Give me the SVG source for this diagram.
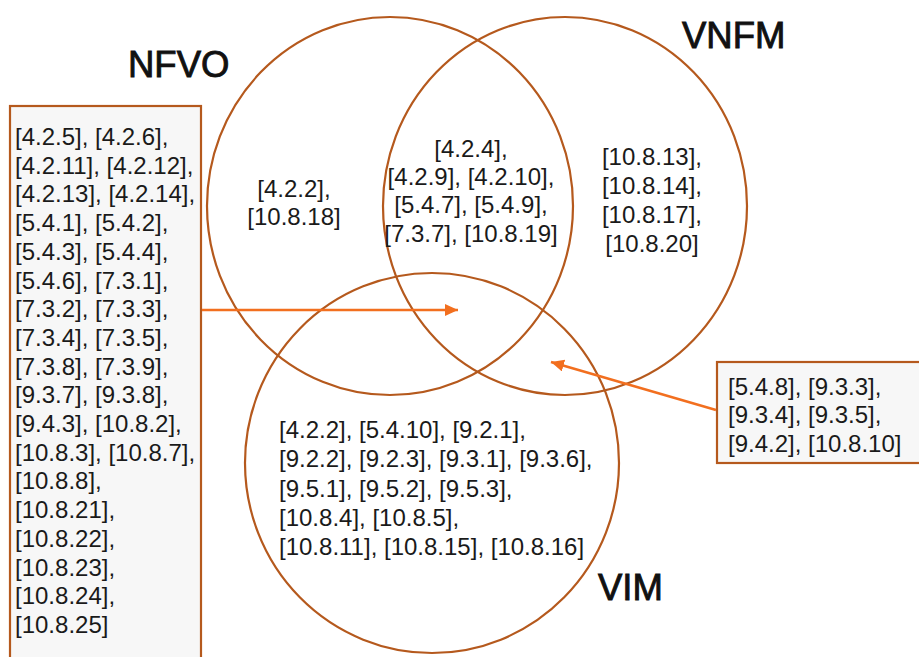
<svg xmlns="http://www.w3.org/2000/svg" width="919" height="657" viewBox="0 0 919 657">
<style>
.c{fill:none;stroke:#b5591d;stroke-width:2.2}
.box{fill:#f7f7f7;stroke:#b5591d;stroke-width:2.2}
.t{font-family:"Liberation Sans",Arial,sans-serif;font-size:24px;fill:#1a1a1a}
.m{text-anchor:middle}
.lbl{font-family:"Liberation Sans",Arial,sans-serif;font-size:36.5px;fill:#111;stroke:#111;stroke-width:0.9}
.a{stroke:#f26f1f;stroke-width:2.5;fill:none}
</style>
<defs>
<marker id="ah" markerUnits="userSpaceOnUse" markerWidth="14" markerHeight="14" refX="13" refY="6" orient="auto">
<path d="M0,0 L13,6 L0,12 z" fill="#f26f1f"/>
</marker>
</defs>
<rect width="919" height="657" fill="#fff"/>
<g id="nfvo">
<ellipse class="c" cx="390" cy="206" rx="183" ry="189"/>
<text class="lbl" x="128" y="77">NFVO</text>
<text class="t m" x="294" y="197">[4.2.2],</text>
<text class="t m" x="294" y="225">[10.8.18]</text>
</g>
<g id="vnfm">
<ellipse class="c" cx="565" cy="206" rx="182" ry="189"/>
<text class="lbl" x="682" y="48">VNFM</text>
<text class="t m" x="652" y="165">[10.8.13],</text>
<text class="t m" x="652" y="194">[10.8.14],</text>
<text class="t m" x="652" y="223">[10.8.17],</text>
<text class="t m" x="652" y="252">[10.8.20]</text>
</g>
<g id="nfvo_vnfm">
<text class="t m" x="471" y="157">[4.2.4],</text>
<text class="t m" x="471" y="185">[4.2.9], [4.2.10],</text>
<text class="t m" x="471" y="213">[5.4.7], [5.4.9],</text>
<text class="t m" x="471" y="242">[7.3.7], [10.8.19]</text>
</g>
<g id="vim">
<ellipse class="c" cx="432" cy="463" rx="187" ry="190"/>
<text class="lbl" x="598" y="600">VIM</text>
<text class="t" x="279" y="438">[4.2.2], [5.4.10], [9.2.1],</text>
<text class="t" x="279" y="467">[9.2.2], [9.2.3], [9.3.1], [9.3.6],</text>
<text class="t" x="279" y="497">[9.5.1], [9.5.2], [9.5.3],</text>
<text class="t" x="279" y="526">[10.8.4], [10.8.5],</text>
<text class="t" x="279" y="555">[10.8.11], [10.8.15], [10.8.16]</text>
</g>
<g id="leftbox">
<rect class="box" x="10" y="106" width="191" height="570"/>
<text class="t" x="15" y="145">[4.2.5], [4.2.6],</text>
<text class="t" x="15" y="173.7">[4.2.11], [4.2.12],</text>
<text class="t" x="15" y="202.4">[4.2.13], [4.2.14],</text>
<text class="t" x="15" y="231.1">[5.4.1], [5.4.2],</text>
<text class="t" x="15" y="259.8">[5.4.3], [5.4.4],</text>
<text class="t" x="15" y="288.5">[5.4.6], [7.3.1],</text>
<text class="t" x="15" y="317.2">[7.3.2], [7.3.3],</text>
<text class="t" x="15" y="345.9">[7.3.4], [7.3.5],</text>
<text class="t" x="15" y="374.6">[7.3.8], [7.3.9],</text>
<text class="t" x="15" y="403.3">[9.3.7], [9.3.8],</text>
<text class="t" x="15" y="432">[9.4.3], [10.8.2],</text>
<text class="t" x="15" y="460.7">[10.8.3], [10.8.7],</text>
<text class="t" x="15" y="489.4">[10.8.8],</text>
<text class="t" x="15" y="518.1">[10.8.21],</text>
<text class="t" x="15" y="546.8">[10.8.22],</text>
<text class="t" x="15" y="575.5">[10.8.23],</text>
<text class="t" x="15" y="604.2">[10.8.24],</text>
<text class="t" x="15" y="632.9">[10.8.25]</text>
</g>
<g id="rightbox">
<rect class="box" x="717" y="362" width="220" height="101"/>
<text class="t" x="728" y="395">[5.4.8], [9.3.3],</text>
<text class="t" x="728" y="423">[9.3.4], [9.3.5],</text>
<text class="t" x="728" y="452">[9.4.2], [10.8.10]</text>
</g>
<g id="connectors">
<line class="a" x1="202" y1="310" x2="458" y2="310" marker-end="url(#ah)"/>
<line class="a" x1="716" y1="410" x2="551" y2="362" marker-end="url(#ah)"/>
</g>
</svg>
